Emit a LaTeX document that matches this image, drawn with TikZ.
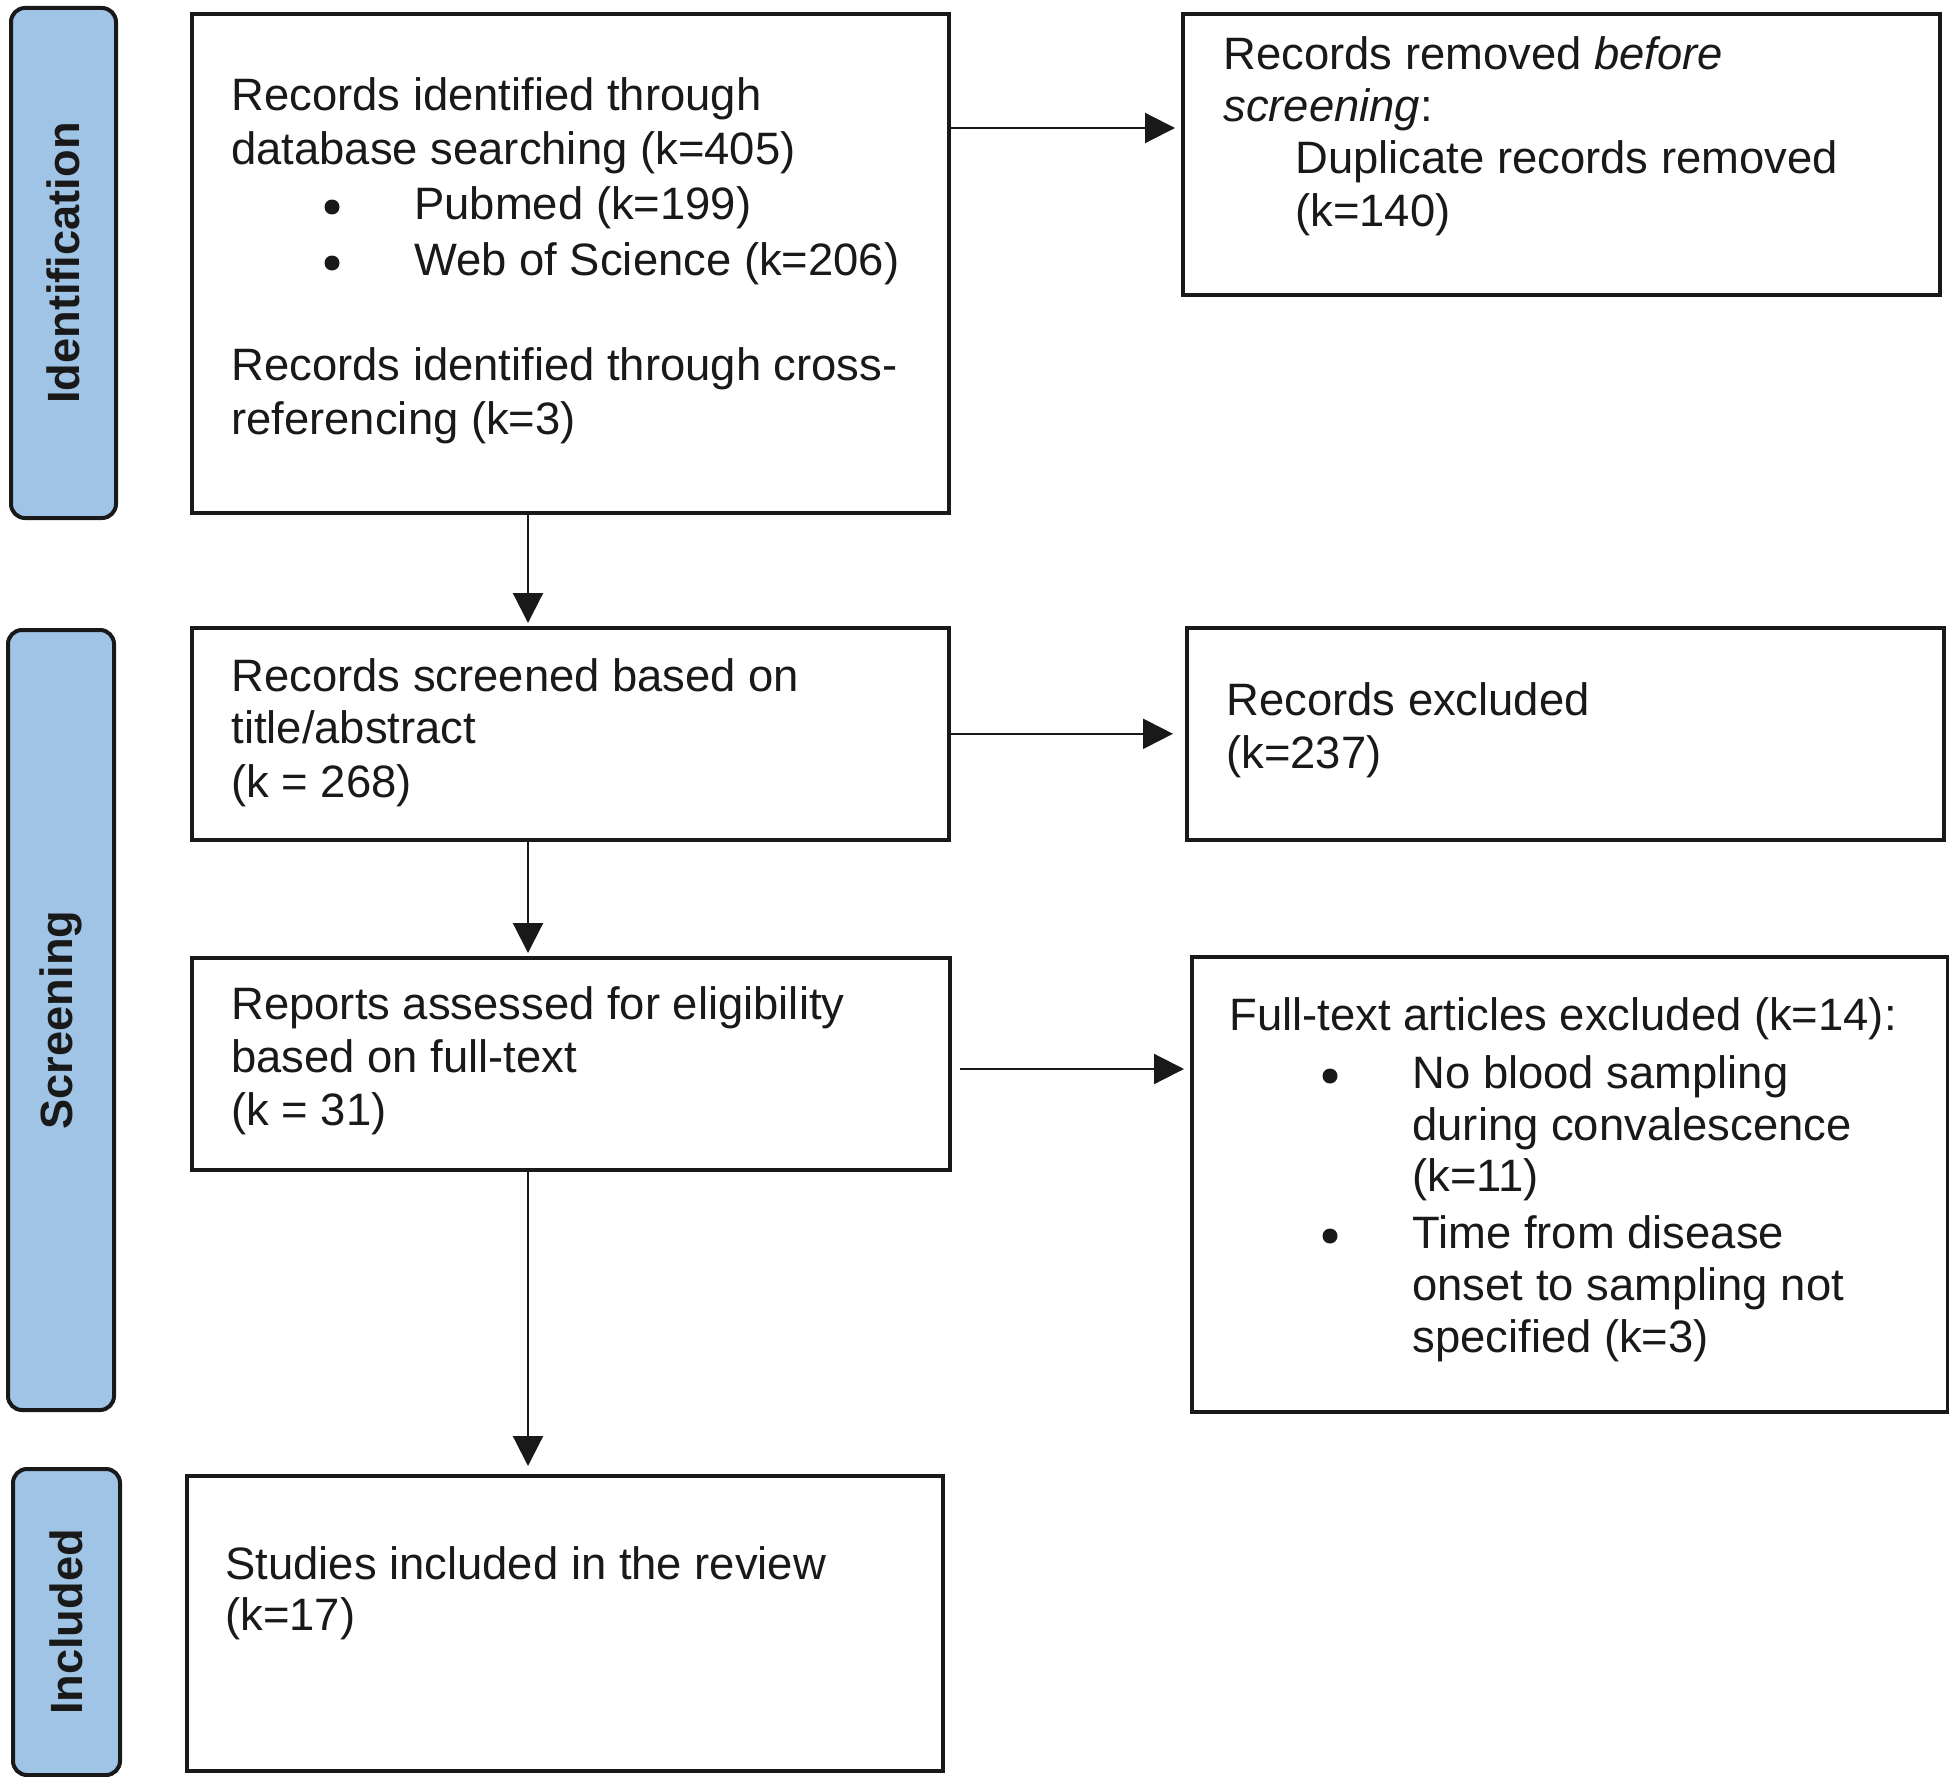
\documentclass[tikz,border=0pt]{standalone}
\usepackage{fontspec}
\setmainfont{Liberation Sans}
\usetikzlibrary{arrows.meta}
\definecolor{sideblue}{RGB}{160,196,230}
\definecolor{ink}{RGB}{25,25,25}
\begin{document}
\begin{tikzpicture}[x=0.5pt,y=-0.5pt,
  box/.style={draw=ink, line width=1.8pt, fill=white, anchor=north west, inner sep=0pt},
  side/.style={draw=ink, line width=2pt, fill=sideblue, rounded corners=7pt, anchor=north west, inner sep=0pt},
  lab/.style={font=\fontsize{22.6pt}{27pt}\selectfont\bfseries, text=ink, rotate=90, inner sep=0pt},
  txt/.style={anchor=base west, inner sep=0pt, font=\fontsize{22.7pt}{26.5pt}\selectfont, text=ink},
  bul/.style={circle, fill=ink, inner sep=0pt, minimum size=7.5pt},
  arr/.style={draw=ink, line width=1.1pt, -{Triangle[length=15pt,width=15pt]}}]
\fill[white] (0,0) rectangle (1949,1777);
\useasboundingbox (0,0) rectangle (1949,1777);

% side bars
\node[side, minimum width=105*0.5pt, minimum height=510*0.5pt] (s1) at (9,6) {};
\node[side, minimum width=106*0.5pt, minimum height=780*0.5pt] (s2) at (6,628) {};
\node[side, minimum width=107*0.5pt, minimum height=306*0.5pt] (s3) at (11,1467) {};
\node[lab] (l1) at (s1.center) {Identification};
\node[lab] (l2) at (s2.center) {Screening};
\node[lab] (l3) at (s3.center) {Included};

% boxes
\node[box, minimum width=757*0.5pt, minimum height=499*0.5pt] (b1) at (190,12) {};
\node[box, minimum width=757*0.5pt, minimum height=281*0.5pt] (b2) at (1181,12) {};
\node[box, minimum width=757*0.5pt, minimum height=212*0.5pt] (b3) at (190,626) {};
\node[box, minimum width=757*0.5pt, minimum height=212*0.5pt] (b5) at (1185,626) {};
\node[box, minimum width=758*0.5pt, minimum height=212*0.5pt] (b4) at (190,956) {};
\node[box, minimum width=756*0.5pt, minimum height=455*0.5pt] (b6) at (1190,955) {};
\node[box, minimum width=756*0.5pt, minimum height=295*0.5pt] (b7) at (185,1474) {};

% box 1 text
\node[txt] (t11) at (231,111) {Records identified through};
\node[txt] (t12) at (231,164) {database searching (k=405)};
\node[bul] (d11) at (332,207) {};
\node[txt] (t13) at (414,219) {Pubmed (k=199)};
\node[bul] (d12) at (332,263) {};
\node[txt] (t14) at (414,275) {Web of Science (k=206)};
\node[txt] (t15) at (231,380) {Records identified through cross-};
\node[txt] (t16) at (231,434) {referencing (k=3)};

% box 2 text
\node[txt] (t21) at (1223,70) {Records removed \textit{before}};
\node[txt] (t22) at (1223,122) {\textit{screening}:};
\node[txt] (t23) at (1295,174) {Duplicate records removed};
\node[txt] (t24) at (1295,227) {(k=140)};

% box 3 text
\node[txt] (t31) at (231,691) {Records screened based on};
\node[txt] (t32) at (231,743) {title/abstract};
\node[txt] (t33) at (231,797) {(k = 268)};

% box 5 text
\node[txt] (t51) at (1226,715) {Records excluded};
\node[txt] (t52) at (1226,768) {(k=237)};

% box 4 text
\node[txt] (t41) at (231,1019) {Reports assessed for eligibility};
\node[txt] (t42) at (231,1072) {based on full-text};
\node[txt] (t43) at (231,1125) {(k = 31)};

% box 6 text
\node[txt] (t61) at (1229,1030) {Full-text articles excluded (k=14):};
\node[bul] (d61) at (1330,1076) {};
\node[txt] (t62) at (1412,1088) {No blood sampling};
\node[txt] (t63) at (1412,1140) {during convalescence};
\node[txt] (t64) at (1412,1191) {(k=11)};
\node[bul] (d62) at (1330,1236) {};
\node[txt] (t65) at (1412,1248) {Time from disease};
\node[txt] (t66) at (1412,1300) {onset to sampling not};
\node[txt] (t67) at (1412,1352) {specified (k=3)};

% box 7 text
\node[txt] (t71) at (225,1579) {Studies included in the review};
\node[txt] (t72) at (225,1630) {(k=17)};

% connectors
\coordinate (ya) at (0,128);
\coordinate (yc) at (0,1069);
\coordinate (xd) at (528,0);
\draw[arr, shorten >=3pt] (b1.east |- ya) -- (b2.west |- ya);
\draw[arr, shorten >=6pt] (b3.east) -- (b5.west);
\draw[arr, shorten <=4pt, shorten >=3pt] (b4.east |- yc) -- (b6.west |- yc);
\draw[arr, shorten >=1.5pt] (b1.south -| xd) -- (b3.north -| xd);
\draw[arr, shorten >=1.5pt] (b3.south -| xd) -- (b4.north -| xd);
\draw[arr, shorten >=4pt] (b4.south -| xd) -- (b7.north -| xd);
\end{tikzpicture}
\end{document}
